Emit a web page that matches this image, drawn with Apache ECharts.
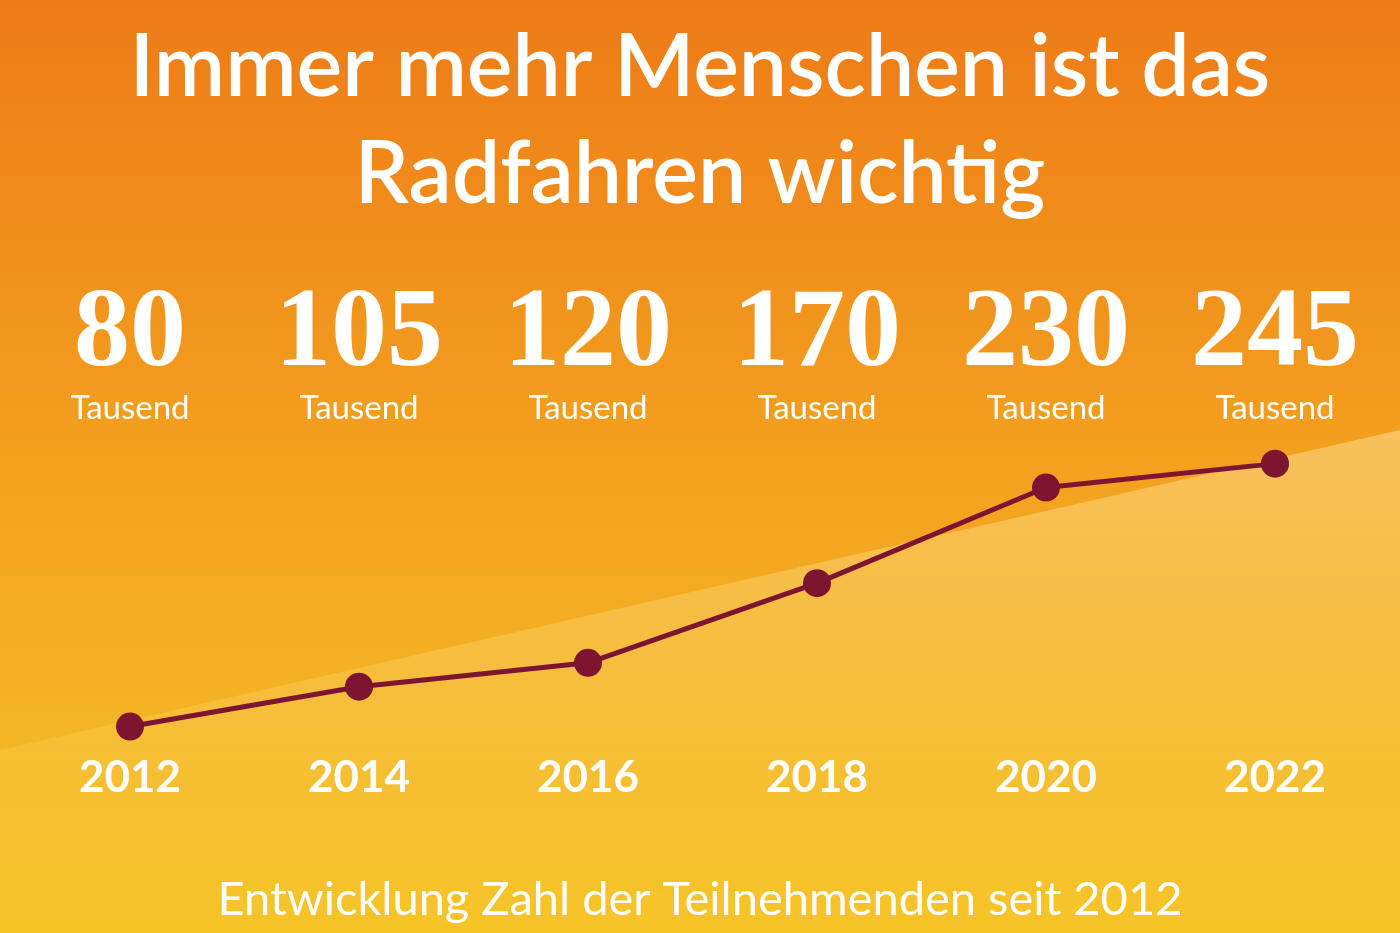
<!DOCTYPE html>
<html><head><meta charset="utf-8">
<script src="https://cdn.jsdelivr.net/npm/echarts@6/dist/echarts.min.js"></script>
<style>html,body{margin:0;padding:0;}#c{width:1400px;height:933px;}</style>
</head><body><div id="c"></div>
<script>
const years = ['2012','2014','2016','2018','2020','2022'];
const participants = [80, 105, 120, 170, 230, 245];
const unitLabel = 'Tausend';
const chart = echarts.init(document.getElementById('c'));
chart.setOption({
  backgroundColor: {type:'linear',x:0,y:0,x2:0,y2:1,colorStops:[{offset:0,color:'#ee7b17'},{offset:0.5,color:'#f3a11f'},{offset:1,color:'#f6c427'}]},
  title: [{
    text: 'Immer mehr Menschen ist das\nRadfahren wichtig',
    left: 'center', top: 10,
    textStyle: {color:'#fff', fontSize: 86, fontWeight: 600, fontFamily: 'Lato', lineHeight: 107}
  },{
    text: 'Entwicklung Zahl der Teilnehmenden seit 2012',
    left: 'center', top: 871,
    textStyle: {color:'#fff', fontSize: 47, fontWeight: 'normal', fontFamily: 'Lato'}
  }],
  graphic: [{
    type:'polygon', silent:true, z:-1,
    shape:{points:[[0,750],[1400,430],[1400,933],[0,933]]},
    style:{fill:{type:'linear',x:0,y:0,x2:0,y2:1,colorStops:[{offset:0,color:'rgba(255,235,170,0.45)'},{offset:1,color:'rgba(255,230,120,0.0)'}]}}
  }],
  grid: {left:130, right:125, top:376, bottom:79},
  xAxis: [{
    type:'category', data: years, boundaryGap:false,
    axisLine:{show:false}, axisTick:{show:false},
    axisLabel:{inside:true, margin:54, color:'#fff', fontSize:44, fontWeight:'bold', fontFamily:'Lato'}
  },{
    type:'category', position:'top', data: participants.map(String), boundaryGap:false,
    axisLine:{show:false}, axisTick:{show:false},
    axisLabel:{margin:-54, color:'#fff',
      formatter: v => '{n|' + v + '}\n{t|' + unitLabel + '}',
      rich:{n:{fontSize:112, fontWeight:'bold', fontFamily:'Liberation Sans Narrow', color:'#fff', lineHeight:100},
            t:{fontSize:33, fontFamily:'Lato', color:'#fff', lineHeight:44}}}
  }],
  yAxis: {type:'value', min:0, max:300, show:false, splitLine:{show:false}},
  series: [{
    type:'line', data: participants, xAxisIndex:0,
    lineStyle:{color:'#7d1530', width:5},
    itemStyle:{color:'#7d1530'},
    symbol:'circle', symbolSize:28, showAllSymbol:true
  }]
});
</script></body></html>
